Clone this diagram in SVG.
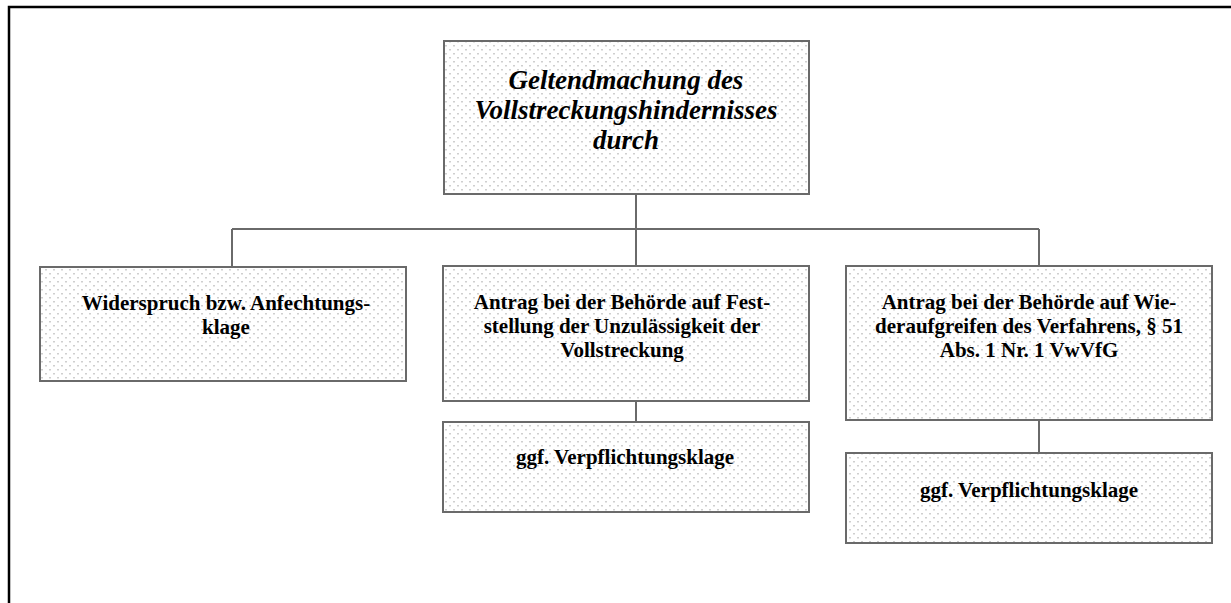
<svg xmlns="http://www.w3.org/2000/svg" width="1231" height="603" viewBox="0 0 1231 603">
<defs>
<pattern id="dots" width="8" height="8" patternUnits="userSpaceOnUse">
<rect x="1" y="1" width="2" height="1.5" fill="#cfcfcf"/>
<rect x="5" y="5" width="2" height="1.5" fill="#cfcfcf"/>
</pattern>
</defs>
<style>
.box{fill:url(#dots);stroke:#6a6a6a;stroke-width:2}
.t{font-family:"Liberation Serif","Times New Roman",serif;font-weight:bold;font-size:21px;fill:#000;text-anchor:middle}
.title{font-size:27px;font-style:italic}
.con{stroke:#6a6a6a;stroke-width:2;fill:none}
</style>
<rect width="1231" height="603" fill="#fff"/>
<path d="M9 603 V7 H1231" fill="none" stroke="#000" stroke-width="2.5"/>
<g id="connectors">
<path class="con" d="M636 194 V229 M232 229 H1039 M232 229 V267 M636 229 V266 M1039 229 V266 M636 401 V422 M1039 420 V453"/>
</g>
<g id="n-top">
<rect class="box" x="444" y="41" width="365" height="153"/>
<text class="t title" x="626" y="89">Geltendmachung des</text>
<text class="t title" x="626" y="119">Vollstreckungshindernisses</text>
<text class="t title" x="626" y="149">durch</text>
</g>
<g id="n-widerspruch">
<rect class="box" x="40" y="267" width="366" height="114"/>
<text class="t" x="226" y="310">Widerspruch bzw. Anfechtungs-</text>
<text class="t" x="226" y="334">klage</text>
</g>
<g id="n-feststellung">
<rect class="box" x="443" y="266" width="366" height="135"/>
<text class="t" x="622" y="309">Antrag bei der Behörde auf Fest-</text>
<text class="t" x="622" y="333">stellung der Unzulässigkeit der</text>
<text class="t" x="622" y="357">Vollstreckung</text>
</g>
<g id="n-verpfl1">
<rect class="box" x="443" y="422" width="366" height="90"/>
<text class="t" x="625" y="464">ggf. Verpflichtungsklage</text>
</g>
<g id="n-wiederaufgreifen">
<rect class="box" x="846" y="266" width="366" height="154"/>
<text class="t" x="1029" y="309">Antrag bei der Behörde auf Wie-</text>
<text class="t" x="1029" y="333">deraufgreifen des Verfahrens, § 51</text>
<text class="t" x="1029" y="357">Abs. 1 Nr. 1 VwVfG</text>
</g>
<g id="n-verpfl2">
<rect class="box" x="846" y="453" width="366" height="90"/>
<text class="t" x="1029" y="497">ggf. Verpflichtungsklage</text>
</g>
</svg>
